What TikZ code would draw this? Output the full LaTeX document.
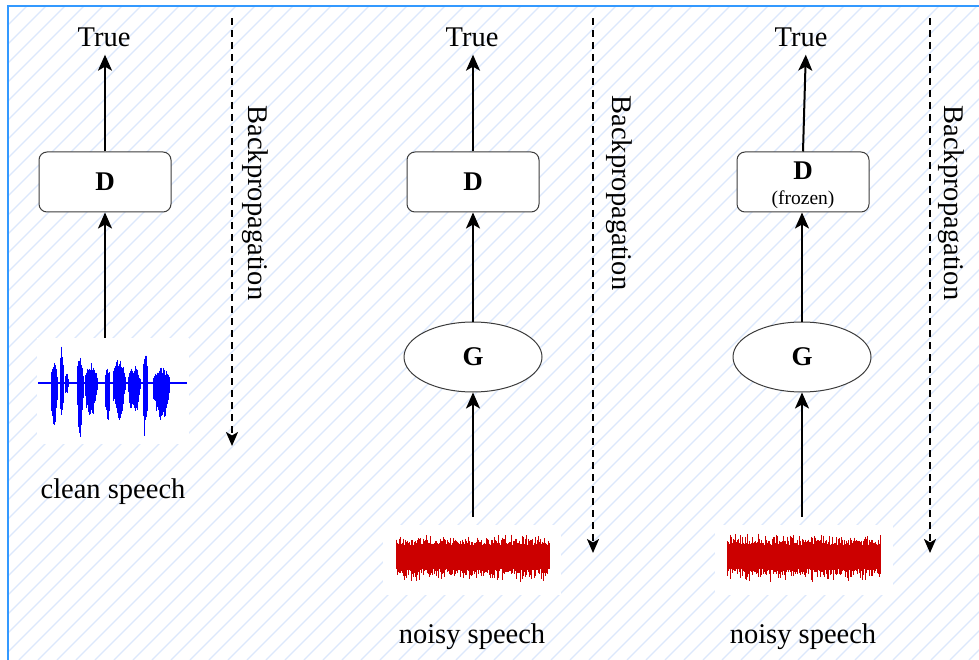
\documentclass[tikz,border=0pt]{standalone}
\usepackage{fontspec}
\setmainfont{Liberation Serif}
\usetikzlibrary{arrows.meta,shapes.geometric}
\definecolor{hatchc}{RGB}{220,232,252}
\definecolor{framec}{RGB}{51,153,255}
\definecolor{edgec}{RGB}{60,60,60}
\definecolor{wblue}{RGB}{0,0,255}
\definecolor{wred}{RGB}{204,0,0}
\begin{document}
\begin{tikzpicture}[x=1pt,y=-1pt,
  lbl/.style={font=\fontsize{28.5}{32}\selectfont, inner sep=0pt},
  dbox/.style={draw=edgec, fill=white, rounded corners=8pt, minimum width=132pt, minimum height=60pt, line width=1pt, inner sep=0pt, font=\fontsize{27}{30}\selectfont\bfseries},
  gell/.style={ellipse, draw=edgec, fill=white, minimum width=138pt, minimum height=70pt, line width=1pt, inner sep=0pt, font=\fontsize{27}{30}\selectfont\bfseries},
  flow/.style={line width=2pt, -{Stealth[length=16pt,width=14pt,inset=4pt]}},
  bp/.style={line width=2pt, dash pattern=on 7pt off 5pt, -{Stealth[length=14pt,width=12pt,inset=3.5pt]}},
  wave/.style={fill=white, draw=none, inner sep=0pt},
  hatch/.style={draw=hatchc, line width=1.3pt},
  frame/.style={draw=framec, line width=2pt}
]
\useasboundingbox (0,0) rectangle (979,660);
\fill[white] (0,0) rectangle (979,660);
\begin{scope}
  \clip (8,6) rectangle (979,660);
  \foreach \i in {-665,-646,...,979} \draw[hatch] (\i,660) -- (\i+660,0);
\end{scope}
\draw[frame] (8,660) -- (8,6) -- (979,6);

% ---------- waveform backgrounds (nodes) ----------
\node[wave, minimum width=152pt, minimum height=106pt] (w1) at (113,391) {};
\node[wave, minimum width=178pt, minimum height=70pt] (w2) at (472,560) {};
\node[wave, minimum width=178pt, minimum height=70pt] (w3) at (804,560) {};

% clean speech waveform
\pgfmathsetseed{11}
\draw[wblue, line width=1.2pt] (38,383) -- (187,383);
\foreach \xa/\xb/\tp/\bt in {51/57/24/50, 60/63/38/49, 65/68/13/15, 77/83/28/60, 85/97/21/37, 105/110/16/40, 113/125/26/40, 128/140/17/32, 143/148/31/57, 153/170/16/40} {
  \pgfmathsetmacro{\nn}{int((\xb-\xa)/0.6)}
  \foreach \k in {0,...,\nn} {
    \pgfmathsetmacro{\xx}{\xa+0.6*\k}
    \pgfmathsetmacro{\env}{sqrt(sin(180*(\k+0.5)/(\nn+1)))}
    \pgfmathsetmacro{\up}{\tp*\env*(0.55+0.45*rnd)}
    \pgfmathsetmacro{\dw}{\bt*\env*(0.55+0.45*rnd)}
    \draw[wblue, line width=1pt] (\xx,383-\up) -- (\xx,383+\dw);
  }
}

% noisy speech waveforms
\pgfmathsetseed{5}
\foreach \sx in {0,331} {
  \begin{scope}[shift={(\sx,0)}]
  \foreach \k in {0,...,256} {
    \pgfmathsetmacro{\xx}{396+0.6*\k}
    \pgfmathsetmacro{\up}{12+12*rnd*rnd}
    \pgfmathsetmacro{\dw}{12+14*rnd*rnd}
    \draw[wred, line width=0.8pt] (\xx,557-\up) -- (\xx,557+\dw);
  }
  \end{scope}
}

% ---------- column 1 ----------
\node[lbl] (t1) at (104,37) {True};
\node[dbox] (d1) at (105,182) {D};
\node[lbl] (c1) at (113,492) {clean speech};
\draw[flow] (w1.north -| d1.south) -- (d1.south);
\draw[flow, shorten >=8pt] (d1.north) -- (t1.south -| d1.north);
\coordinate (b1s) at (232,18);
\coordinate (b1e) at (232,446);
\draw[bp] (b1s) -- (b1e);
\node[lbl, rotate=-90] (p1) at (255,203) {Backpropagation};

% ---------- column 2 ----------
\node[lbl] (t2) at (472,37) {True};
\node[dbox] (d2) at (473,182) {D};
\node[gell] (g2) at (473,357) {G};
\node[lbl] (c2) at (472,637) {noisy speech};
\draw[flow] ([yshift=8pt]w2.north -| g2.south) -- (g2.south);
\draw[flow] (g2.north) -- (d2.south);
\draw[flow, shorten >=8pt] (d2.north) -- (t2.south -| d2.north);
\coordinate (b2s) at (593,18);
\coordinate (b2e) at (593,553);
\draw[bp] (b2s) -- (b2e);
\node[lbl, rotate=-90] (p2) at (619,193) {Backpropagation};

% ---------- column 3 ----------
\node[lbl] (t3) at (801,37) {True};
\node[dbox] (d3) at (803,182) {};
\node[font=\fontsize{27}{30}\selectfont\bfseries, inner sep=0pt] (d3a) at (803,171) {D};
\node[font=\fontsize{19.5}{22}\selectfont, inner sep=0pt] (d3b) at (803,200) {(frozen)};
\node[gell] (g3) at (802,357) {G};
\node[lbl] (c3) at (803,637) {noisy speech};
\draw[flow] ([yshift=8pt]w3.north -| g3.south) -- (g3.south);
\draw[flow] (g3.north) -- (d3.south -| g3.north);
\draw[flow, shorten >=8pt] (d3.north) -- ([xshift=5pt]t3.south);
\coordinate (b3s) at (930,18);
\coordinate (b3e) at (930,553);
\draw[bp] (b3s) -- (b3e);
\node[lbl, rotate=-90] (p3) at (951,203) {Backpropagation};
\end{tikzpicture}
\end{document}
